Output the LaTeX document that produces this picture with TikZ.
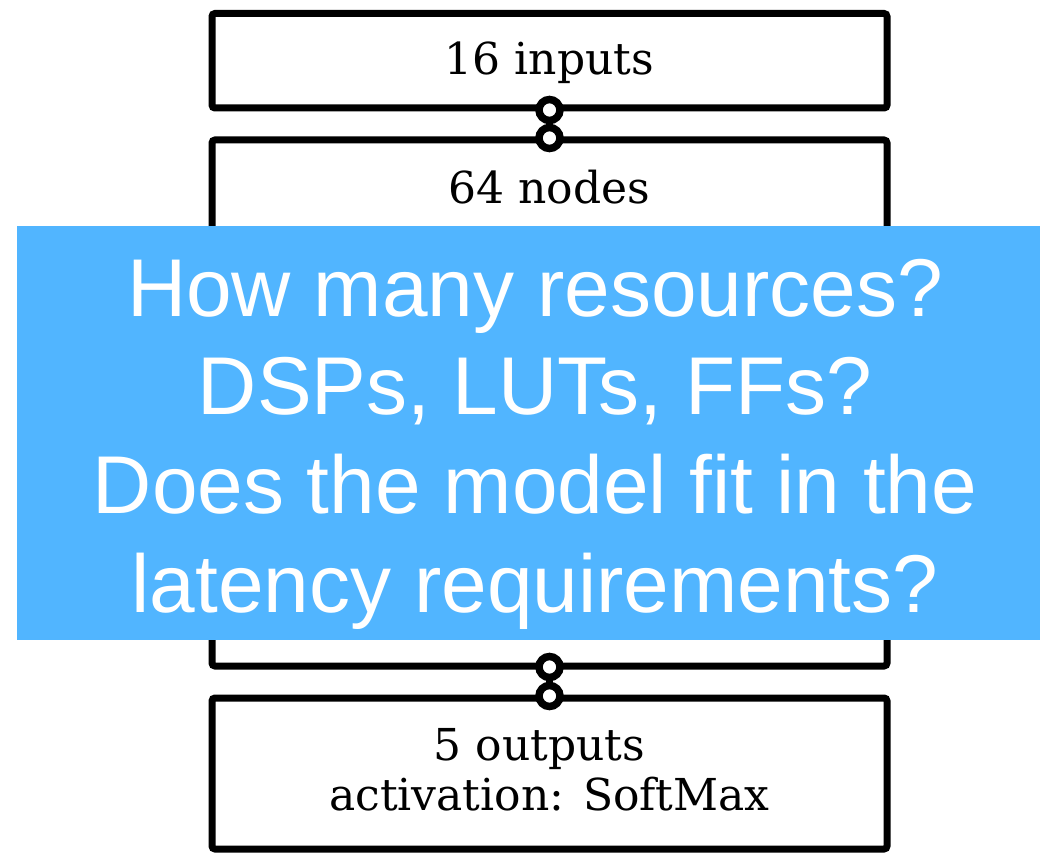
\documentclass[tikz,border=0pt]{standalone}
\usepackage{fontspec}
\setmainfont{DejaVu Serif}
\newfontfamily\qfont{Liberation Sans}
\definecolor{qblue}{HTML}{51B5FF}
\begin{document}
\begin{tikzpicture}[x=1pt,y=-1pt,
  layer/.style={draw, line width=7pt, rounded corners=3pt, minimum width=675pt,
                inner sep=0pt, outer sep=0pt, anchor=north},
  lab/.style={font=\fontsize{44}{50}\selectfont, anchor=base, inner sep=0pt},
  wire/.style={draw, line width=6.5pt},
  ring/.style={draw, line width=7.5pt, fill=white},
  qbox/.style={fill=qblue, minimum width=1023pt, minimum height=414pt,
               inner sep=0pt, outer sep=0pt, anchor=north west},
  qtext/.style={text=white, font=\qfont\fontsize{82}{98.7}\selectfont,
                align=center, inner sep=0pt}]
\useasboundingbox (0,0) rectangle (1040,853);

% network layers
\node[layer, minimum height=94.5pt] (in)  at (549.5,13.5) {};
\node[layer, minimum height=526pt]  (hid) at (549.5,140)  {};
\node[layer, minimum height=151pt]  (out) at (549.5,698)  {};

% layer captions
\node[lab] (inl)  at ([yshift=-61.5pt]in.north)  {16 inputs};
\node[lab] (hidl) at ([yshift=-63pt]hid.north)   {64 nodes};
\node[lab] (outl) at ([xshift=-10pt,yshift=-62pt]out.north) {5 outputs};
\node[lab] (actl) at ([yshift=-112pt]out.north)  {activation: SoftMax};

% links between layers: a wire capped by two touching rings
\draw[wire] (in.south) -- (hid.north);
\draw[ring] ([yshift=-2pt]in.south) circle[radius=10.5pt]
            ([yshift=2pt]hid.north) circle[radius=10.5pt];
\draw[wire] (hid.south) -- (out.north);
\draw[ring] ([yshift=-1pt]hid.south) circle[radius=10.5pt]
            ([yshift=2pt]out.north) circle[radius=10.5pt];

% question banner
\node[qbox] (q) at (17,226) {};
\node[qtext] (qt) at (535,444) {How many resources?\\DSPs, LUTs, FFs?\\Does the model fit in the\\latency requirements?};
\end{tikzpicture}
\end{document}
